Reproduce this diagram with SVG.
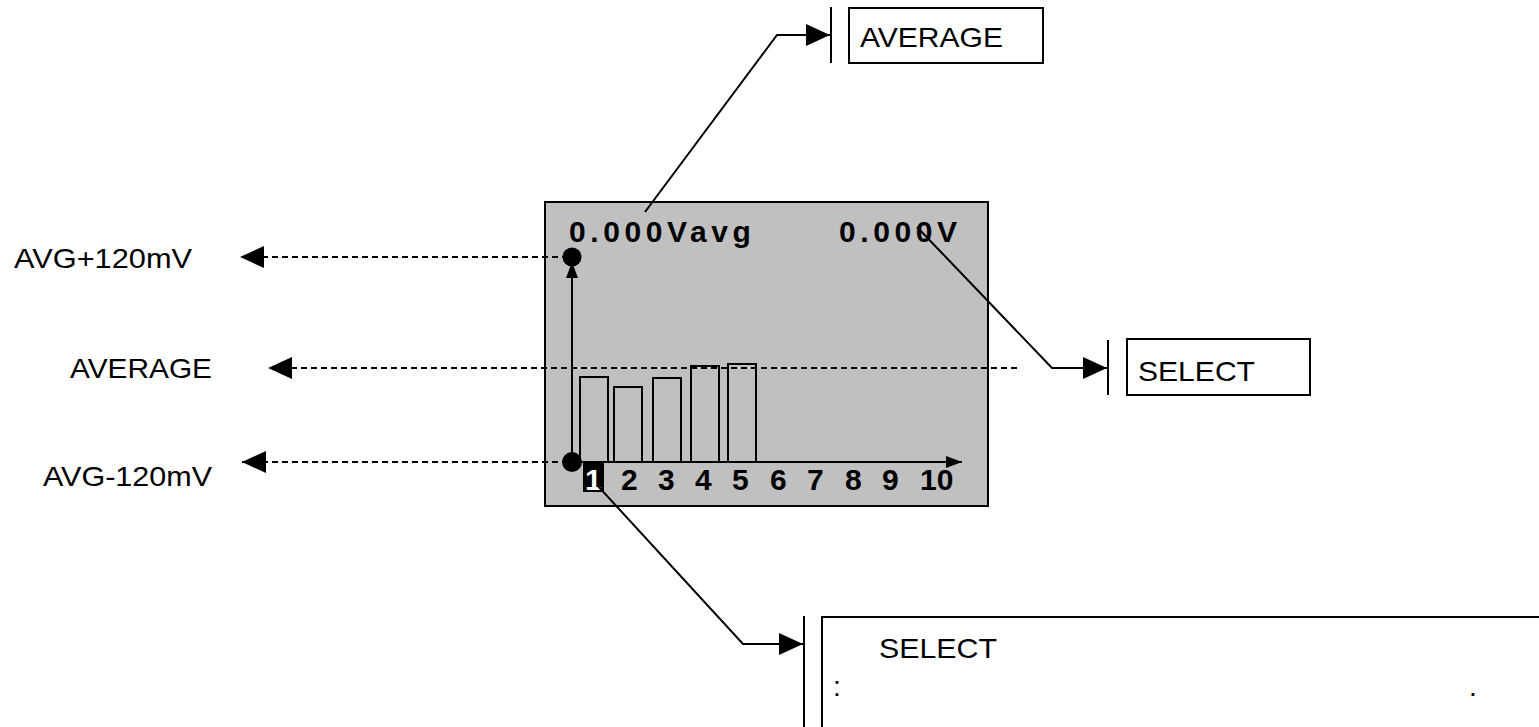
<svg xmlns="http://www.w3.org/2000/svg" width="1539" height="727" viewBox="0 0 1539 727">
  <style>
    .lbl { font-family: "Liberation Sans", Arial, sans-serif; font-size: 28px; fill: #000; }
    .lcd { font-family: "Liberation Sans", Arial, sans-serif; font-size: 30px; font-weight: bold; fill: #000; }
    .box { fill: #fff; stroke: #000; stroke-width: 2; }
    .lead { fill: none; stroke: #000; stroke-width: 2; }
    .dash { fill: none; stroke: #000; stroke-width: 2; stroke-dasharray: 6 4; }
    .bar { fill: none; stroke: #000; stroke-width: 2; }
  </style>
  <defs>
    <marker id="arrow" markerUnits="userSpaceOnUse" markerWidth="26" markerHeight="24" refX="24" refY="12" orient="auto">
      <path d="M0,1 L24,12 L0,23 z" fill="#000"/>
    </marker>
    <marker id="axisArrow" markerUnits="userSpaceOnUse" markerWidth="18" markerHeight="14" refX="16" refY="7" orient="auto">
      <path d="M0,1 L16,7 L0,13 z" fill="#000"/>
    </marker>
  </defs>

  <!-- display screen -->
  <g id="screen">
    <rect x="545" y="202" width="443" height="304" fill="#c0c0c0" stroke="#000" stroke-width="2"/>
    <text class="lcd" x="569" y="242" letter-spacing="4.6">0.000Vavg</text>
    <text class="lcd" x="839" y="242" letter-spacing="4.6">0.000V</text>
    <!-- bars -->
    <rect class="bar" x="580" y="377" width="28" height="85"/>
    <rect class="bar" x="614" y="387" width="28" height="75"/>
    <rect class="bar" x="653" y="378" width="28" height="84"/>
    <rect class="bar" x="691" y="366" width="28" height="96"/>
    <rect class="bar" x="728" y="364" width="28" height="98"/>
    <!-- axes -->
    <line class="lead" x1="572" y1="462" x2="572" y2="262" marker-end="url(#axisArrow)"/>
    <line class="lead" x1="572" y1="462" x2="962" y2="462" marker-end="url(#axisArrow)"/>
    <circle cx="572" cy="257" r="9.5" fill="#000"/>
    <circle cx="572" cy="462" r="10" fill="#000"/>
    <!-- channel numbers -->
    <rect x="583" y="462" width="21" height="30" fill="#000"/>
    <text class="lcd" x="585" y="490" style="fill:#fff">1</text>
    <text class="lcd" x="621" y="490">2</text>
    <text class="lcd" x="658" y="490">3</text>
    <text class="lcd" x="695" y="490">4</text>
    <text class="lcd" x="732" y="490">5</text>
    <text class="lcd" x="770" y="490">6</text>
    <text class="lcd" x="807" y="490">7</text>
    <text class="lcd" x="845" y="490">8</text>
    <text class="lcd" x="882" y="490">9</text>
    <text class="lcd" x="920" y="490">10</text>
  </g>

  <!-- level labels -->
  <g id="label-upper"><text class="lbl" x="14" y="268" textLength="178" lengthAdjust="spacingAndGlyphs">AVG+120mV</text></g>
  <g id="label-average"><text class="lbl" x="70" y="378" textLength="142" lengthAdjust="spacingAndGlyphs">AVERAGE</text></g>
  <g id="label-lower"><text class="lbl" x="43" y="486" textLength="169" lengthAdjust="spacingAndGlyphs">AVG-120mV</text></g>

  <!-- callout boxes -->
  <g id="box-average">
    <rect class="box" x="849" y="8" width="194" height="55"/>
    <text class="lbl" x="860" y="47" textLength="143" lengthAdjust="spacingAndGlyphs">AVERAGE</text>
  </g>
  <g id="box-select">
    <rect class="box" x="1127" y="339" width="183" height="56"/>
    <text class="lbl" x="1138" y="381" textLength="117" lengthAdjust="spacingAndGlyphs">SELECT</text>
  </g>
  <g id="box-channel">
    <rect class="box" x="822" y="617" width="730" height="120"/>
    <text class="lbl" x="879" y="658" textLength="118" lengthAdjust="spacingAndGlyphs">SELECT</text>
    <text class="lbl" x="833" y="696">:</text>
    <text class="lbl" x="1469" y="696">.</text>
  </g>

  <!-- connectors -->
  <g id="connectors">
    <polyline class="lead" points="645,212 777,35 830,35" marker-end="url(#arrow)"/>
    <line class="lead" x1="831" y1="7" x2="831" y2="63"/>
    <polyline class="lead" points="917,227 1052,368 1107,368" marker-end="url(#arrow)"/>
    <line class="lead" x1="1108" y1="340" x2="1108" y2="395"/>
    <polyline class="lead" points="597,485 743,644 803,644" marker-end="url(#arrow)"/>
    <line class="lead" x1="804" y1="616" x2="804" y2="727"/>
    <line class="dash" x1="568" y1="257" x2="240" y2="257" marker-end="url(#arrow)"/>
    <line class="dash" x1="1017" y1="368" x2="268" y2="368" marker-end="url(#arrow)"/>
    <line class="dash" x1="568" y1="462" x2="242" y2="462" marker-end="url(#arrow)"/>
  </g>
</svg>
